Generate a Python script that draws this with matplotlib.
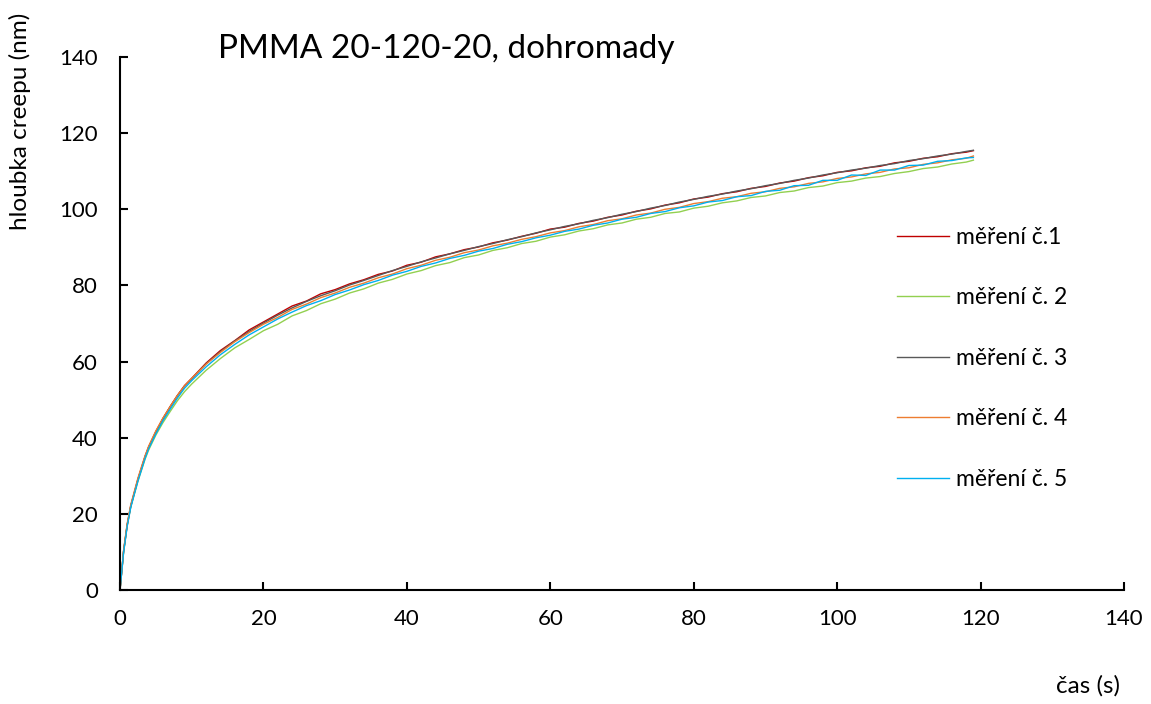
import matplotlib
matplotlib.use('Agg')
from matplotlib import pyplot as plt

plt.rcParams['font.family'] = ['Lato', 'DejaVu Sans']

# cas (s)
t = [0, 0.5, 1, 1.5, 2, 2.5, 3, 3.5, 4, 5, 6, 7, 8, 9, 10,
     12, 14, 16, 18, 20, 22, 24, 26, 28, 30, 32, 34, 36, 38, 40,
     42, 44, 46, 48, 50, 52, 54, 56, 58, 60, 62, 64, 66, 68, 70,
     72, 74, 76, 78, 80, 82, 84, 86, 88, 90, 92, 94, 96, 98, 100,
     102, 104, 106, 108, 110, 112, 114, 116, 118, 119]

# hloubka creepu (nm)
m1 = [0, 10.2, 17.1, 22.1, 25.6, 29.1, 32.1, 35.1, 37.6, 41.6, 45.1, 48.2, 51.1, 53.7, 55.6,
      59.6, 62.9, 65.5, 68.3, 70.4, 72.5, 74.6, 75.9, 77.8, 78.9, 80.4, 81.5, 82.9, 83.8, 85.3,
      86.1, 87.5, 88.3, 89.4, 90.1, 91.2, 91.9, 92.9, 93.7, 94.8, 95.3, 96.3, 96.9, 97.9, 98.5,
      99.5, 100.1, 101.1, 101.7, 102.7, 103.2, 104.1, 104.6, 105.5, 106.0, 106.9, 107.4, 108.3, 108.8, 109.7,
      110.1, 110.9, 111.3, 112.2, 112.6, 113.4, 113.8, 114.6, 115.0, 115.4]
m2 = [0, 10.0, 16.9, 21.8, 25.2, 28.6, 31.5, 34.4, 36.8, 40.7, 44.0, 46.9, 49.7, 52.1, 54.1,
      57.7, 60.8, 63.6, 65.8, 68.1, 69.8, 72.0, 73.4, 75.2, 76.4, 78.0, 79.1, 80.6, 81.6, 83.0,
      83.9, 85.2, 86.0, 87.3, 88.0, 89.2, 89.9, 91.0, 91.6, 92.7, 93.3, 94.3, 94.9, 95.9, 96.4,
      97.4, 97.9, 98.9, 99.3, 100.3, 100.8, 101.7, 102.2, 103.1, 103.5, 104.4, 104.8, 105.7, 106.1, 107.0,
      107.4, 108.2, 108.6, 109.4, 109.9, 110.7, 111.1, 111.9, 112.4, 112.9]
m3 = [0, 10.1, 17.0, 22.0, 25.5, 29.0, 32.0, 35.0, 37.5, 41.5, 45.0, 48.1, 51.0, 53.5, 55.5,
      59.4, 62.6, 65.4, 67.9, 70.1, 72.2, 74.1, 75.8, 77.3, 78.6, 80.1, 81.3, 82.6, 83.9, 85.0,
      86.2, 87.2, 88.3, 89.2, 90.2, 91.0, 92.0, 92.8, 93.8, 94.6, 95.5, 96.2, 97.1, 97.8, 98.7,
      99.4, 100.3, 101.0, 101.9, 102.6, 103.4, 104.0, 104.8, 105.4, 106.2, 106.8, 107.6, 108.2, 109.0, 109.6,
      110.3, 110.8, 111.5, 112.0, 112.8, 113.3, 114.0, 114.5, 115.2, 115.5]
m4 = [0, 10.4, 17.4, 22.4, 25.9, 29.4, 32.4, 35.3, 37.8, 41.8, 45.2, 48.2, 51.1, 53.6, 55.6,
      59.3, 62.4, 65.2, 67.6, 69.8, 71.6, 73.7, 75.1, 76.8, 78.0, 79.5, 80.6, 82.0, 83.0, 84.4,
      85.3, 86.6, 87.4, 88.6, 89.3, 90.4, 91.1, 92.1, 92.8, 93.8, 94.4, 95.4, 96.0, 97.0, 97.5,
      98.5, 99.0, 100.0, 100.5, 101.5, 102.0, 102.9, 103.3, 104.2, 104.6, 105.5, 105.9, 106.8, 107.2, 108.1,
      108.5, 109.3, 109.7, 110.6, 110.9, 111.8, 112.2, 113.0, 113.4, 114.0]
m5 = [0, 9.8, 16.7, 21.7, 25.2, 28.6, 31.6, 34.6, 37.1, 41.0, 44.5, 47.5, 50.4, 53.0, 55.0,
      58.6, 61.8, 64.5, 67.0, 69.1, 71.2, 73.0, 74.7, 76.0, 77.6, 78.8, 80.2, 81.3, 82.7, 83.7,
      85.0, 85.9, 87.1, 87.9, 89.0, 89.7, 90.8, 91.5, 92.5, 93.2, 94.2, 94.8, 95.8, 96.4, 97.4,
      97.9, 98.9, 99.4, 100.4, 100.9, 101.9, 102.3, 103.3, 103.6, 104.7, 105.0, 106.2, 106.3, 107.6, 107.6,
      109.0, 108.9, 110.3, 110.3, 111.5, 111.6, 112.6, 112.8, 113.5, 113.6]

series = [m1, m2, m3, m4, m5]
labels = ['měření č.1', 'měření č. 2', 'měření č. 3', 'měření č. 4', 'měření č. 5']
colors = ['#C00000', '#92D050', '#595959', '#ED7D31', '#00B0F0']

fig = plt.figure(figsize=(11.51, 7.04), dpi=100)
ax = fig.add_axes([120/1151, 1-590/704, (1124-120)/1151, (590-57)/704])

for y, lab, c in zip(series, labels, colors):
    ax.plot(t, y, color=c, lw=1.0, label=lab)

ax.set_xlim(0, 140)
ax.set_ylim(0, 140)
ax.set_xticks(range(0, 141, 20))
ax.set_yticks(range(0, 141, 20))
ax.spines['top'].set_visible(False)
ax.spines['right'].set_visible(False)
ax.spines['left'].set_linewidth(1.5)
ax.spines['bottom'].set_linewidth(1.5)
ax.tick_params(direction='in', length=6, width=1.5, labelsize=16)
ax.tick_params(axis='x', pad=14)
ax.tick_params(axis='y', pad=16)

fig.text(218/1151, 1-49/704, 'PMMA 20-120-20, dohromady', fontsize=24, ha='left', va='center')
fig.text(20/1151, 1-121/704, 'hloubka creepu (nm)', fontsize=17.5, rotation=90, ha='center', va='center')
fig.text(1088/1151, 1-686/704, 'čas (s)', fontsize=17.5, ha='center', va='center')

ax.legend(loc='upper left', bbox_to_anchor=(897/1151, 1-227/704), bbox_transform=fig.transFigure,
          frameon=False, fontsize=16.5, handlelength=2.27, handletextpad=0.3,
          labelspacing=1.72, borderpad=0, borderaxespad=0)

plt.savefig('out.png', dpi=100)
